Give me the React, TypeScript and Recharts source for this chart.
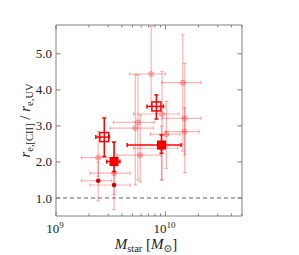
import { ScatterChart, Scatter, XAxis, YAxis, ErrorBar, ReferenceLine } from "recharts";

const FONT = "'Liberation Serif', 'DejaVu Serif', serif";
const AXIS = "#808080";
const INK = "#222";

// individual galaxies (faded). stellar mass in units of 1e9 Msun
const galMass = [2.43, 3.39, 5.6, 5.3, 5.88, 7.4, 9.3, 10.2, 14.4, 15.0, 15.0, 9.2];
const galMassLo = [1.71, 2.04, 3.34, 3.11, 3.59, 4.69, 5.1, 7.3, 9.3, 9.3, 10.0, 5.1];
const galMassHi = [3.59, 4.76, 7.9, 7.75, 9.0, 10.0, 13.3, 13.6, 21.0, 21.0, 20.3, 13.0];
const galRatio = [2.12, 1.69, 3.1, 2.94, 2.19, 4.44, 3.33, 2.77, 4.2, 3.21, 2.84, 2.38];
const galRatioLo = [1.6, 1.1, 1.5, 1.36, 1.45, 3.55, 1.5, 1.82, 2.3, 1.7, 2.2, 1.5];
const galRatioHi = [2.85, 2.55, 4.42, 4.42, 3.3, 5.76, 4.51, 3.68, 5.53, 4.74, 3.5, 3.0];

// small solid dots
const dotMass = [2.43, 3.39];
const dotMassLo = [1.71, 2.04];
const dotMassHi = [3.23, 4.76];
const dotRatio = [1.48, 1.36];
const dotRatioLo = [0.92, 0.68];
const dotRatioHi = [2.0, 2.0];

// open squares
const openMass = [2.76, 8.26];
const openMassLo = [2.31, 6.78];
const openMassHi = [3.07, 9.6];
const openRatio = [2.69, 3.54];
const openRatioLo = [2.15, 3.19];
const openRatioHi = [3.22, 3.86];

// filled squares
const fillMass = [3.39, 9.19];
const fillMassLo = [2.9, 4.47];
const fillMassHi = [3.84, 13.9];
const fillRatio = [2.01, 2.47];
const fillRatioLo = [1.73, 2.24];
const fillRatioHi = [2.55, 2.75];

const xTicks = [1e9, 2e9, 3e9, 4e9, 5e9, 6e9, 7e9, 8e9, 9e9, 1e10, 2e10, 3e10, 4e10, 5e10];
const xMajor = [1e9, 1e10];
const xMajorExp = ["9", "10"];
const yTicks = [1, 2, 3, 4, 5];

function rows(m: number[], mLo: number[], mHi: number[], r: number[], rLo: number[], rHi: number[]) {
  return m.map((v, i) => ({
    x: v * 1e9,
    y: r[i],
    ex: [(v - mLo[i]) * 1e9, (mHi[i] - v) * 1e9],
    ey: [r[i] - rLo[i], rHi[i] - r[i]],
  }));
}

const galData = rows(galMass, galMassLo, galMassHi, galRatio, galRatioLo, galRatioHi);
const dotData = rows(dotMass, dotMassLo, dotMassHi, dotRatio, dotRatioLo, dotRatioHi);
const openData = rows(openMass, openMassLo, openMassHi, openRatio, openRatioLo, openRatioHi);
const fillData = rows(fillMass, fillMassLo, fillMassHi, fillRatio, fillRatioLo, fillRatioHi);

function BottomTick({ x, y, payload }: any) {
  const idx = xMajor.indexOf(payload.value);
  const major = idx >= 0;
  return (
    <g>
      <line x1={x} x2={x} y1={y} y2={y - (major ? 4.5 : 2.5)} stroke={AXIS} />
      {major && (
        <text x={x - 1} y={y + 16.5} textAnchor="middle" fontFamily={FONT} fontSize={13} fill={INK}>
          10
          <tspan dy={-5} fontSize={9}>
            {xMajorExp[idx]}
          </tspan>
        </text>
      )}
    </g>
  );
}

function TopTick({ x, y, payload }: any) {
  const major = xMajor.includes(payload.value);
  return <line x1={x} x2={x} y1={y} y2={y + (major ? 4.5 : 2.5)} stroke={AXIS} />;
}

function LeftTick({ x, y, payload }: any) {
  return (
    <g>
      <line x1={x} x2={x + 4.5} y1={y} y2={y} stroke={AXIS} />
      <text x={x - 4} y={y} dy="0.35em" textAnchor="end" fontFamily={FONT} fontSize={13} fill={INK}>
        {payload.value.toFixed(1)}
      </text>
    </g>
  );
}

function RightTick({ x, y }: any) {
  return <line x1={x} x2={x - 4.5} y1={y} y2={y} stroke={AXIS} />;
}

const fadedDot = ({ cx, cy }: any) => (
  <circle cx={cx} cy={cy} r={2.6} fill="rgba(255,0,0,0.22)" stroke="rgba(255,0,0,0.3)" strokeWidth={0.8} />
);
const solidDot = ({ cx, cy }: any) => <circle cx={cx} cy={cy} r={2.3} fill="#d40000" />;
const openSquare = ({ cx, cy }: any) => (
  <rect x={cx - 4.5} y={cy - 4.5} width={9} height={9} fill="none" stroke="#ff0000" strokeWidth={1.5} />
);
const filledSquare = ({ cx, cy }: any) => (
  <rect x={cx - 4} y={cy - 4} width={8} height={8} fill="#ff0000" stroke="#e00000" strokeWidth={1} />
);

const FADED = "rgba(255,0,0,0.3)";

function XTitle() {
  return (
    <text x={138} y={240.5} textAnchor="middle" fontFamily={FONT} fontSize={15} fill={INK}>
      <tspan fontStyle="italic">M</tspan>
      <tspan dy={3} fontSize={10.5}>star</tspan>
      <tspan dy={-3}> [</tspan>
      <tspan fontStyle="italic">M</tspan>
      <tspan dy={3} fontSize={10.5}>⊙</tspan>
      <tspan dy={-3}>]</tspan>
    </text>
  );
}

function YTitle() {
  const cx = 22;
  const cy = 112.5;
  return (
    <text
      x={cx}
      y={cy}
      textAnchor="middle"
      fontFamily={FONT}
      fontSize={15}
      fill={INK}
      transform={`rotate(-90 ${cx} ${cy})`}
    >
      <tspan fontStyle="italic">r</tspan>
      <tspan dy={3} fontSize={10.5}>e,[CII]</tspan>
      <tspan dy={-3}> / </tspan>
      <tspan fontStyle="italic">r</tspan>
      <tspan dy={3} fontSize={10.5}>e,UV</tspan>
    </text>
  );
}

export default function App() {
  return (
    <ScatterChart width={285} height={247} margin={{ top: 16, right: 50, bottom: 0, left: 0 }}>
      <XAxis
        xAxisId="b"
        type="number"
        dataKey="x"
        scale="log"
        domain={[1e9, 5e10]}
        allowDataOverflow
        ticks={xTicks}
        interval={0}
        tick={(p: any) => <BottomTick {...p} />}
        tickLine={false}
        tickSize={0}
        tickMargin={0}
        height={39}
        stroke={AXIS}
        label={{ content: () => <XTitle /> }}
      />
      <XAxis
        xAxisId="t"
        orientation="top"
        type="number"
        dataKey="x"
        scale="log"
        domain={[1e9, 5e10]}
        allowDataOverflow
        ticks={xTicks}
        interval={0}
        tick={(p: any) => <TopTick {...p} />}
        tickLine={false}
        tickSize={0}
        tickMargin={0}
        height={1}
        stroke={AXIS}
      />
      <YAxis
        yAxisId="l"
        type="number"
        dataKey="y"
        domain={[0.5, 5.8]}
        allowDataOverflow
        ticks={yTicks}
        interval={0}
        tick={(p: any) => <LeftTick {...p} />}
        tickLine={false}
        tickSize={0}
        tickMargin={0}
        width={48}
        stroke={AXIS}
        label={{ content: () => <YTitle /> }}
      />
      <YAxis
        yAxisId="r"
        orientation="right"
        type="number"
        dataKey="y"
        domain={[0.5, 5.8]}
        allowDataOverflow
        ticks={yTicks}
        interval={0}
        tick={(p: any) => <RightTick {...p} />}
        tickLine={false}
        tickSize={0}
        tickMargin={0}
        width={1}
        stroke={AXIS}
      />
      <ReferenceLine xAxisId="b" yAxisId="l" y={1} stroke="#666" strokeDasharray="4 3" strokeWidth={1} />
      <Scatter xAxisId="b" yAxisId="l" data={galData} shape={fadedDot} isAnimationActive={false}>
        <ErrorBar dataKey="ex" direction="x" width={1.8} stroke={FADED} strokeWidth={1.2} />
        <ErrorBar dataKey="ey" direction="y" width={1.8} stroke={FADED} strokeWidth={1.2} />
      </Scatter>
      <Scatter xAxisId="b" yAxisId="l" data={dotData} shape={solidDot} isAnimationActive={false}>
        <ErrorBar dataKey="ex" direction="x" width={1.8} stroke={FADED} strokeWidth={1.2} />
        <ErrorBar dataKey="ey" direction="y" width={1.8} stroke={FADED} strokeWidth={1.2} />
      </Scatter>
      <Scatter xAxisId="b" yAxisId="l" data={openData} shape={openSquare} isAnimationActive={false}>
        <ErrorBar dataKey="ex" direction="x" width={2} stroke="#ff0000" strokeWidth={1.5} />
        <ErrorBar dataKey="ey" direction="y" width={2} stroke="#ff0000" strokeWidth={1.5} />
      </Scatter>
      <Scatter xAxisId="b" yAxisId="l" data={fillData} shape={filledSquare} isAnimationActive={false}>
        <ErrorBar dataKey="ex" direction="x" width={2} stroke="#ff0000" strokeWidth={1.5} />
        <ErrorBar dataKey="ey" direction="y" width={2} stroke="#ff0000" strokeWidth={1.5} />
      </Scatter>
    </ScatterChart>
  );
}
